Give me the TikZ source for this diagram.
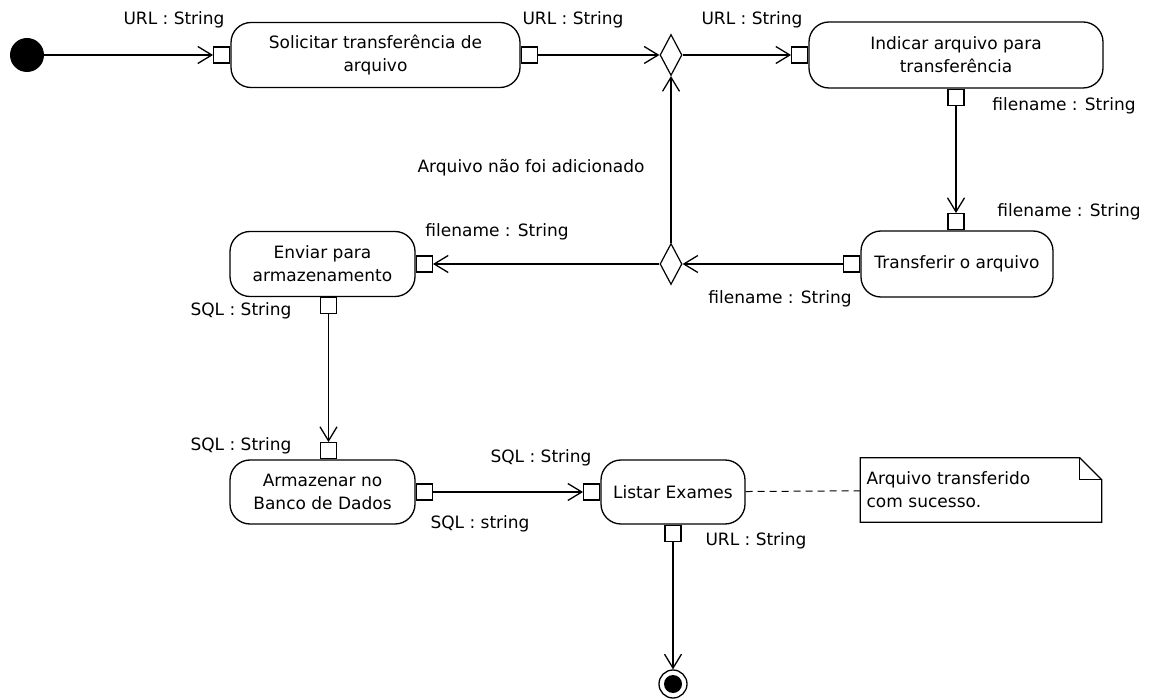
\documentclass[tikz,border=0pt]{standalone}
\usepackage{fontspec}
\setmainfont{DejaVu Sans}
\usetikzlibrary{shapes.geometric}
\usetikzlibrary{arrows.meta}
\usetikzlibrary{calc}

\begin{document}
\begin{tikzpicture}[x=1pt,y=-1pt,
  font=\fontsize{17}{23}\selectfont,
  action/.style={draw, line width=1.3pt, rounded corners=20pt, align=center, inner sep=0pt},
  port/.style={draw, line width=1.3pt, fill=white, minimum size=16pt, inner sep=0pt},
  decision/.style={draw, diamond, line width=1.2pt, inner sep=0pt, aspect=0.5,
    minimum width=22pt, minimum height=41pt},
  flow/.style={line width=1.3pt, -{Straight Barb[length=14pt,width=17pt,line width=1.3pt]}},
  notebox/.style={minimum width=241pt, minimum height=64pt, text width=229pt, align=left, inner sep=0pt},
  tag/.style={inner sep=0pt},
]
\useasboundingbox (0,0) rectangle (1151,700);
% Initial and final nodes
\node[circle, fill=black, minimum size=34pt, inner sep=0pt] (start) at (27,55) {};
\node[circle, draw, line width=1.3pt, minimum size=28pt, inner sep=0pt] (final) at (673,684) {};
\node[circle, fill=black, minimum size=18pt, inner sep=0pt] at (final) {};
% Actions
\node[action, minimum width=289pt, minimum height=65pt] (act1) at (375.5,55) {Solicitar transferência de\\arquivo};
\node[action, minimum width=294pt, minimum height=66pt] (act2) at (956,55) {Indicar arquivo para\\transferência};
\node[action, minimum width=192pt, minimum height=66pt] (act3) at (957,264) {Transferir o arquivo};
\node[action, minimum width=185pt, minimum height=65pt] (act4) at (322.5,264) {Enviar para\\armazenamento};
\node[action, minimum width=185pt, minimum height=64pt] (act5) at (322.5,492) {Armazenar no\\Banco de Dados};
\node[action, minimum width=144pt, minimum height=64pt] (act6) at (673,492) {Listar Exames};
% Decisions
\node[decision] (dec1) at (671,55) {};
\node[decision] (dec2) at (671,264) {};
% Pins
\node[port, anchor=east] (p1in) at (act1.west) {};
\node[port, anchor=west] (p1out) at (act1.east) {};
\node[port, anchor=east] (p2in) at (act2.west) {};
\node[port, anchor=north] (p2out) at (act2.south) {};
\node[port, anchor=south] (p3in) at (act3.north -| p2out) {};
\node[port, anchor=east] (p3out) at (act3.west) {};
\node[port, anchor=west] (p4in) at (act4.east) {};
\node[port, anchor=north] (p4out) at ($(act4.south)+(6,0)$) {};
\node[port, anchor=south] (p5in) at (act5.north -| p4out) {};
\node[port, anchor=west] (p5out) at (act5.east) {};
\node[port, anchor=east] (p6in) at (act6.west) {};
\node[port, anchor=north] (p6out) at (act6.south) {};
% Pin labels
\node[tag] (t1) at (174,20) {URL : String};
\node[tag] (t2) at (573,20) {URL : String};
\node[tag] (t3) at (752,20) {URL : String};
\node[tag] (t4) at (1064,106) {filename : String};
\node[tag] (t5) at (1069,212) {filename : String};
\node[tag] (t6) at (780,299) {filename : String};
\node[tag] (t7) at (497,232) {filename : String};
\node[tag] (t8) at (241,311) {SQL : String};
\node[tag] (t9) at (241,446) {SQL : String};
\node[tag] (t10) at (541,458) {SQL : String};
\node[tag] (t11) at (480,524) {SQL : string};
\node[tag] (t12) at (756,541) {URL : String};
\node[tag] (guard) at (531,168) {Arquivo não foi adicionado};
% Note
\node[notebox] (note) at (981,490) {Arquivo transferido\\com sucesso.};
\draw[line width=1.2pt] (note.north west) -- ($(note.north east)+(-22,0)$)
  -- ($(note.north east)+(0,22)$) -- (note.south east) -- (note.south west) -- cycle;
\draw[line width=1.2pt] ($(note.north east)+(-22,0)$) |- ($(note.north east)+(0,22)$);
% Control flow edges
\draw[flow] (start) -- (p1in);
\draw[flow] (p1out) -- (dec1);
\draw[flow] (dec1) -- (p2in);
\draw[flow] (p2out) -- (p3in);
\draw[flow] (p3out) -- (dec2);
\draw[flow] (dec2) -- (p4in);
\draw[flow] (dec2.north) -- (dec1.south);
\draw[flow] (p4out) -- (p5in);
\draw[flow] (p5out) -- (p6in);
\draw[flow] (p6out) -- (final);
% Comment link
\draw[line width=1pt, dash pattern=on 7pt off 5pt] (act6) -- (note);
\end{tikzpicture}
\end{document}
